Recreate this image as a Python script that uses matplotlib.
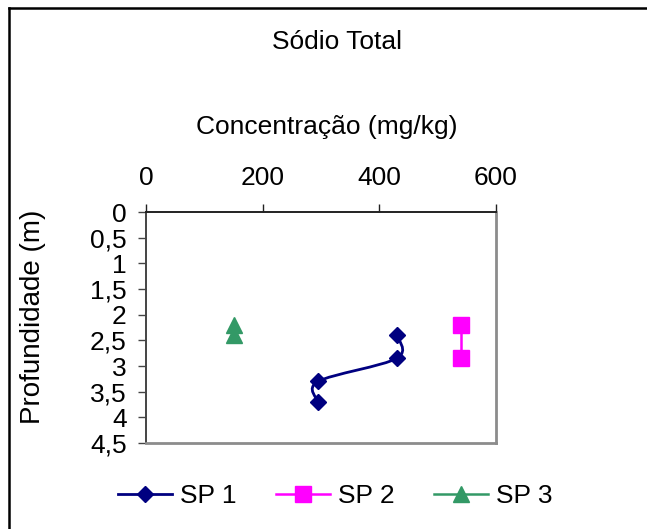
import matplotlib
matplotlib.use("Agg")
import matplotlib.pyplot as plt
import matplotlib.lines as mlines
from matplotlib.path import Path
from matplotlib.patches import PathPatch

plt.rcParams['font.family'] = ['Liberation Sans', 'DejaVu Sans']

# concentração (mg/kg) x profundidade (m) por ponto de amostragem
sp1_conc = [430, 430, 295, 295]
sp1_prof = [2.4, 2.85, 3.3, 3.7]
sp2_conc = [540, 540]
sp2_prof = [2.2, 2.85]
sp3_conc = [150, 150]
sp3_prof = [2.2, 2.4]

x_ticks = [0, 200, 400, 600]
y_ticks = [0, 0.5, 1, 1.5, 2, 2.5, 3, 3.5, 4, 4.5]
y_labels = ['0', '0,5', '1', '1,5', '2', '2,5', '3', '3,5', '4', '4,5']

NAVY = '#000080'
MAGENTA = '#FF00FF'
GREEN = '#339966'
FS = 19


def smooth_path(xs, ys):
    # curva suavizada estilo Excel (Catmull-Rom convertida em Bezier cubica)
    pts = list(zip(xs, ys))
    verts = [pts[0]]
    codes = [Path.MOVETO]
    n = len(pts)
    for i in range(n - 1):
        p0 = pts[max(i - 1, 0)]
        p1 = pts[i]
        p2 = pts[i + 1]
        p3 = pts[min(i + 2, n - 1)]
        c1 = (p1[0] + (p2[0] - p0[0]) / 6., p1[1] + (p2[1] - p0[1]) / 6.)
        c2 = (p2[0] - (p3[0] - p1[0]) / 6., p2[1] - (p3[1] - p1[1]) / 6.)
        verts += [c1, c2, p2]
        codes += [Path.CURVE4] * 3
    return Path(verts, codes)


W, H = 647, 529
fig = plt.figure(figsize=(W / 100., H / 100.), dpi=100)
ax = fig.add_axes([146 / W, (H - 443) / H, 350 / W, 231 / H])

ax.add_patch(PathPatch(smooth_path(sp1_conc, sp1_prof), facecolor='none',
                       edgecolor=NAVY, lw=2, zorder=3))
ax.plot(sp1_conc, sp1_prof, linestyle='none', marker='D', ms=8.5,
        color=NAVY, zorder=4, clip_on=False)
ax.plot(sp2_conc, sp2_prof, linestyle='-', lw=1.8, marker='s', ms=11,
        color=MAGENTA, zorder=4, clip_on=False)
ax.plot(sp3_conc, sp3_prof, linestyle='-', lw=1.8, marker='^', ms=11.5,
        color=GREEN, zorder=4, clip_on=False)

ax.set_xlim(0, 600)
ax.set_ylim(4.5, 0)
ax.xaxis.tick_top()
ax.set_xticks(x_ticks)
ax.set_yticks(y_ticks)
ax.set_yticklabels(y_labels)
ax.tick_params(axis='x', direction='out', length=6, width=1, pad=10,
               labelsize=FS, color='#222222')
ax.tick_params(axis='y', direction='out', length=6, width=1, pad=8,
               labelsize=FS, color='#444444')
ax.spines['top'].set_color('#222222')
ax.spines['top'].set_linewidth(1.4)
ax.spines['left'].set_color('#444444')
ax.spines['left'].set_linewidth(1.4)
for side in ('right', 'bottom'):
    ax.spines[side].set_color('#8c8c8c')
    ax.spines[side].set_linewidth(2)

fig.text(337 / W, 1 - 42 / H, 'Sódio Total', ha='center', va='center', fontsize=FS)
fig.text(327 / W, 1 - 127 / H, 'Concentração (mg/kg)', ha='center', va='center', fontsize=FS)
fig.text(33 / W, 1 - 317 / H, 'Profundidade (m)', ha='center', va='center',
         rotation=90, fontsize=20)

handles = [
    mlines.Line2D([], [], color=NAVY, lw=2, marker='D', ms=8.5),
    mlines.Line2D([], [], color=MAGENTA, lw=1.8, marker='s', ms=11),
    mlines.Line2D([], [], color=GREEN, lw=1.8, marker='^', ms=11.5),
]
fig.legend(handles, ['SP 1', 'SP 2', 'SP 3'], loc='center',
           bbox_to_anchor=(335 / W, 1 - 496 / H), ncol=3, frameon=False,
           fontsize=FS, handlelength=2.05, handletextpad=0.3, columnspacing=1.5)

# moldura da area do grafico (lados superior e esquerdo)
fig.add_artist(mlines.Line2D([9 / W, 9 / W], [0, 1 - 8 / H], color='black', lw=1.8))
fig.add_artist(mlines.Line2D([9 / W, 1], [1 - 8 / H, 1 - 8 / H], color='black', lw=1.8))

fig.savefig('out.png', dpi=100)
